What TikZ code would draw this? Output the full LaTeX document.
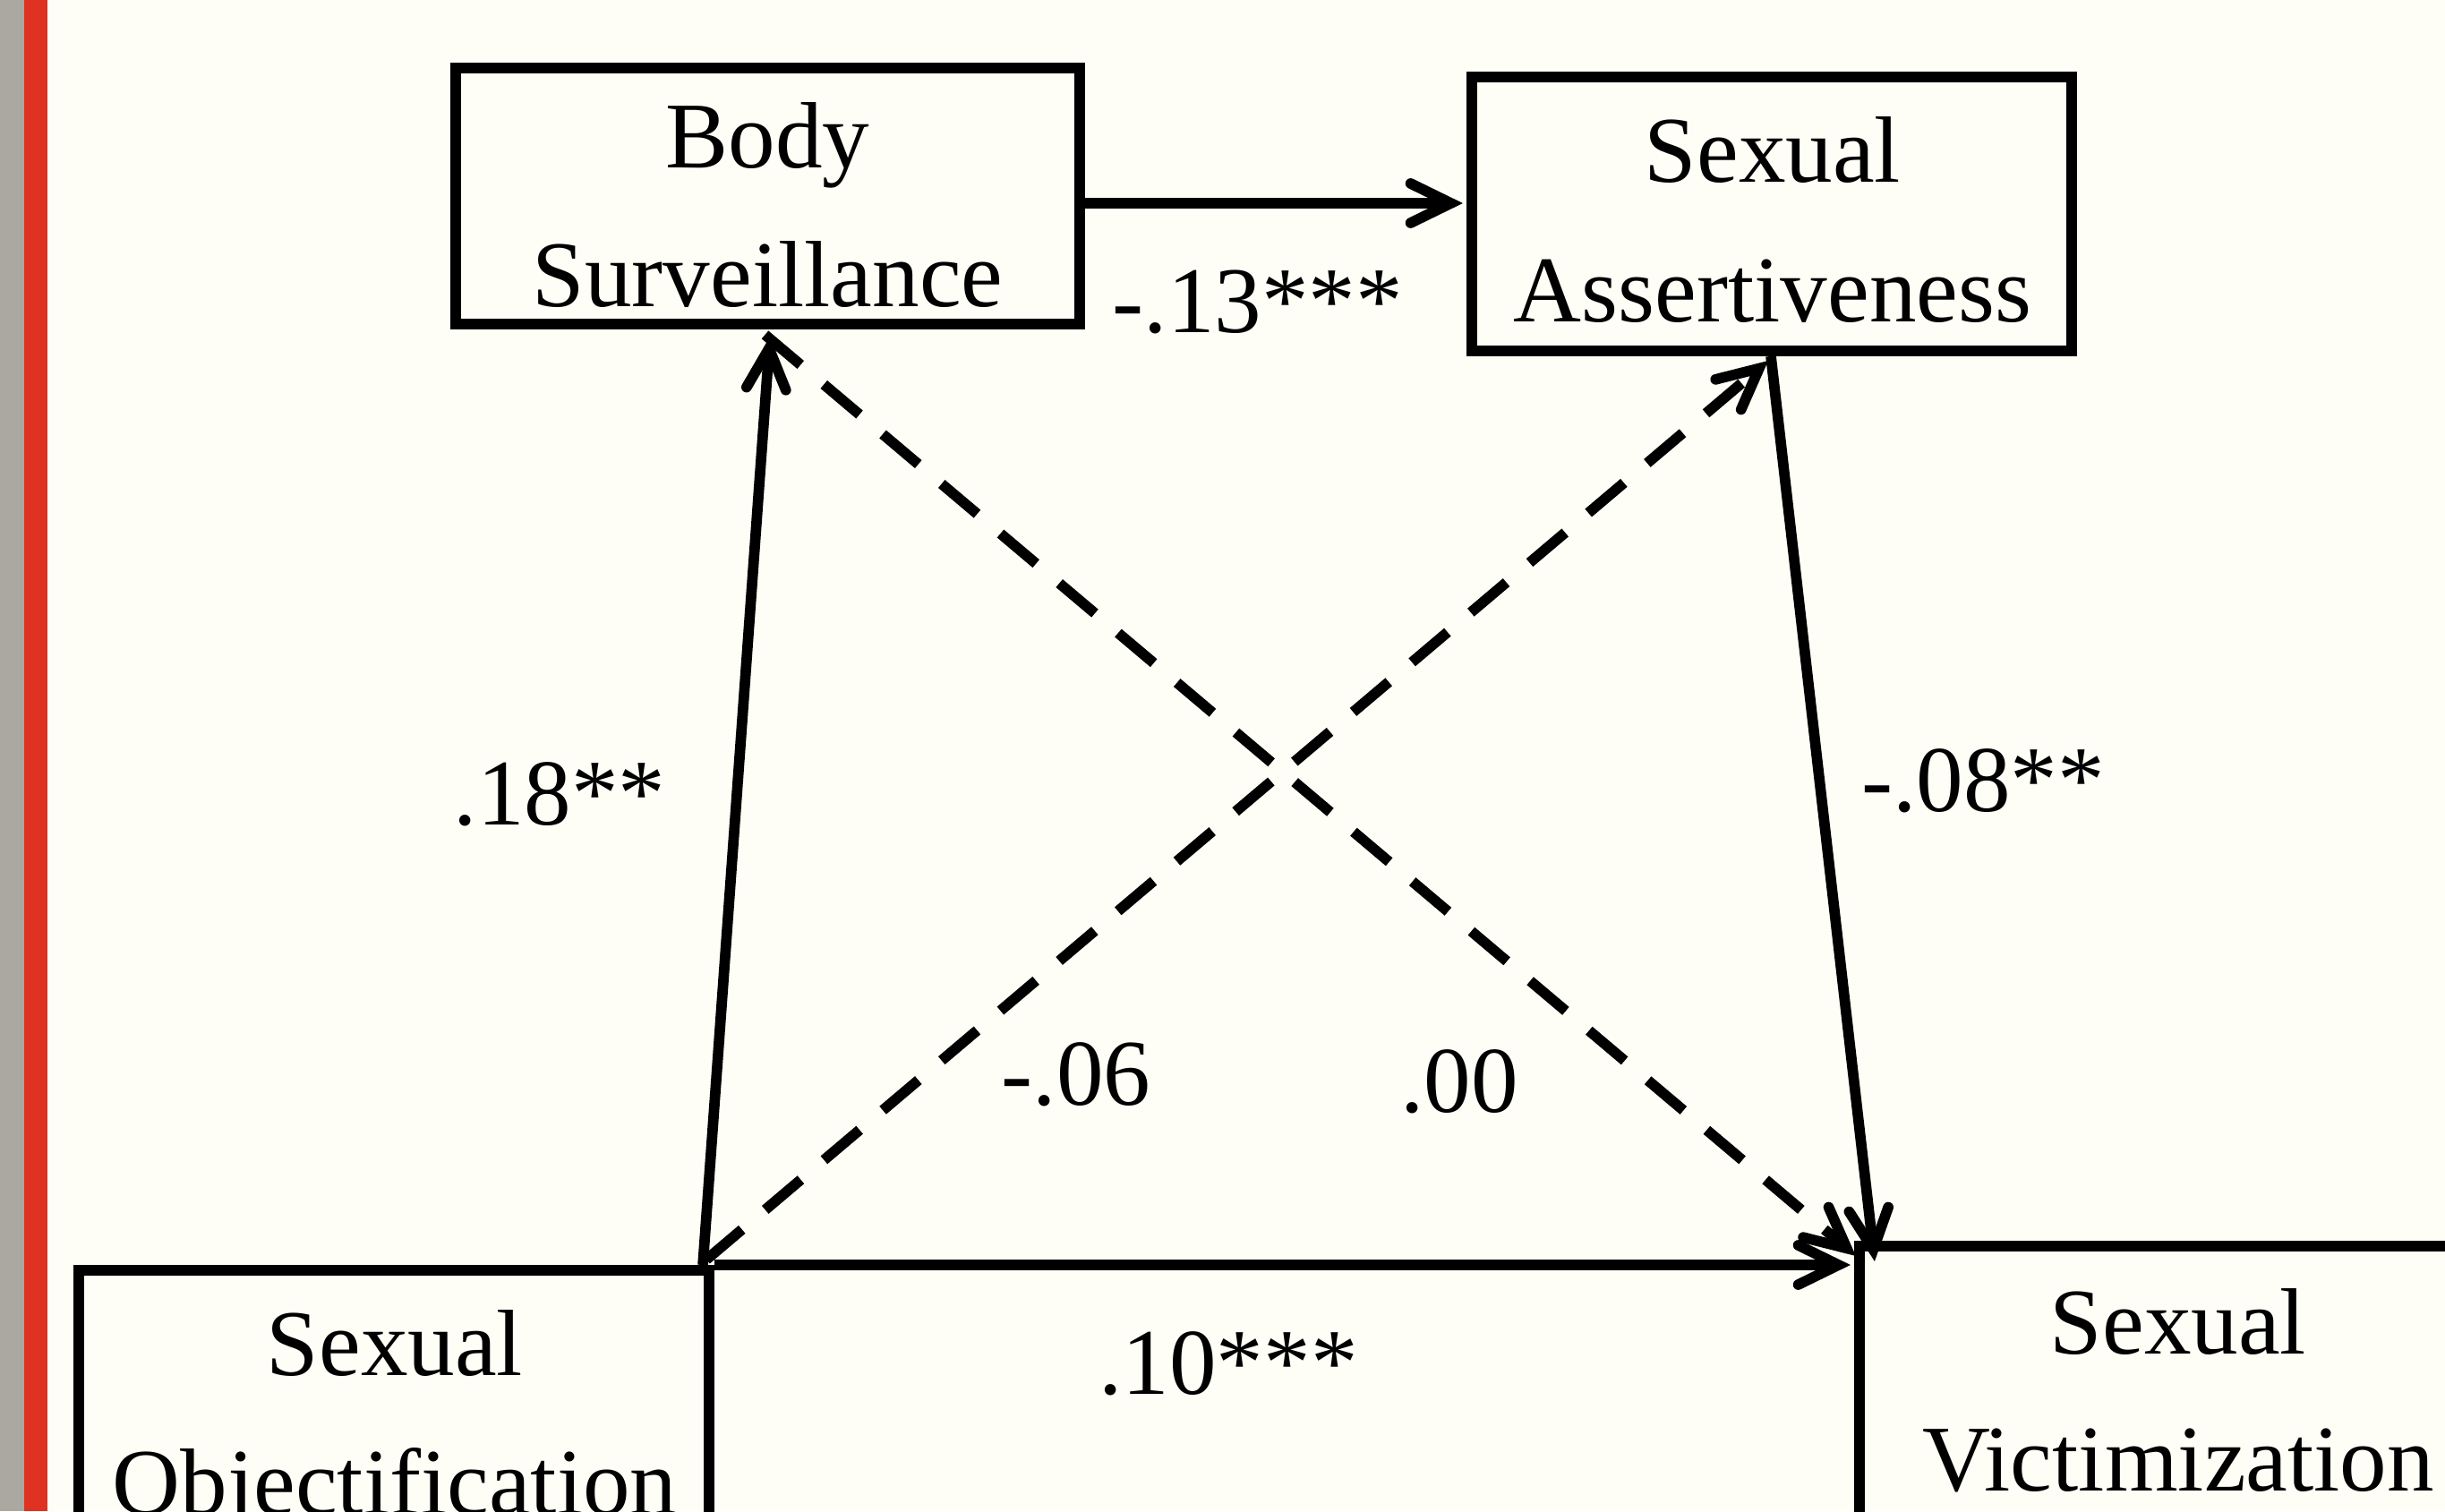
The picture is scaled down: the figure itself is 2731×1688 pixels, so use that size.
\documentclass[tikz,border=0pt]{standalone}
\usepackage{fontspec}
\setmainfont{Liberation Serif}
\usetikzlibrary{arrows.meta,calc}
\definecolor{bgpaper}{RGB}{254,254,247}
\definecolor{bargray}{RGB}{170,168,160}
\definecolor{barred}{RGB}{224,50,34}
\begin{document}
\begin{tikzpicture}[x=0.01cm,y=-0.01cm,
  box/.style={draw=black, line width=0.117cm, rectangle, inner sep=0pt},
  txt/.style={font=\fontsize{29.9}{36}\selectfont, inner sep=0pt, anchor=base},
  conn/.style={draw=black, line width=0.117cm,
    -{Straight Barb[length=0.45cm,width=0.44cm,line cap=round]}},
  dconn/.style={conn, dash pattern=on 0.52cm off 0.34cm}]
\useasboundingbox (0,0) rectangle (2731,1688);
\begin{scope}
\clip (0,0) rectangle (2731,1688);
\fill[bgpaper] (0,0) rectangle (2731,1688);
\fill[bargray] (0,0) rectangle (27,1688);
\fill[barred] (27,0) rectangle (53,1688);
% boxes
\node[box, minimum width=6.97cm, minimum height=2.86cm] (BS) at (857.5,219) {};
\node[box, minimum width=6.70cm, minimum height=3.06cm] (SA) at (1979,239) {};
\node[box, minimum width=7.04cm, minimum height=4.81cm] (SO) at (440,1659.5) {};
\node[box, minimum width=8.23cm, minimum height=5.08cm] (SV) at (2488.5,1646) {};
% box texts
\node[txt] (BSa) at (857.5,187) {Body};
\node[txt] (BSb) at (857.5,342) {Surveillance};
\node[txt] (SAa) at (1980,204) {Sexual};
\node[txt] (SAb) at (1980,359) {Assertiveness};
\node[txt] (SOa) at (441,1536) {Sexual};
\node[txt] (SOb) at (441,1691) {Objectification};
\node[txt] (SVa) at (2433,1512) {Sexual};
\node[txt] (SVb) at (2433,1665) {Victimization};
% connectors
\draw[conn] ($(BS.east)+(0,8)$) -- ($(SA.west)+(-4,-12)$);
\draw[conn] ($(SO.north east)+(-13,0)$) -- ($(BS.south)+(2.5,8)$);
\draw[conn] ($(SA.south)+(-1,0)$) -- ($(SV.north west)+(23,23)$);
\draw[conn] (SO.north east) -- ($(SV.north west)+(-4,27)$);
\draw[dconn] ($(BS.south)+(-3,6)$) -- ($(SV.north west)+(2,17)$);
\draw[dconn] ($(SO.north east)+(-9,-6)$) -- ($(SA.south)+(-4,5)$);
% labels
\node[txt] (L13) at (1405,371) {-.13***};
\node[txt] (L18) at (625,921) {.18**};
\node[txt] (L08) at (2215,906) {-.08**};
\node[txt] (L06) at (1202,1234) {-.06};
\node[txt] (L00) at (1630,1242) {.00};
\node[txt] (L10) at (1372,1557) {.10***};
\end{scope}
\end{tikzpicture}
\end{document}
